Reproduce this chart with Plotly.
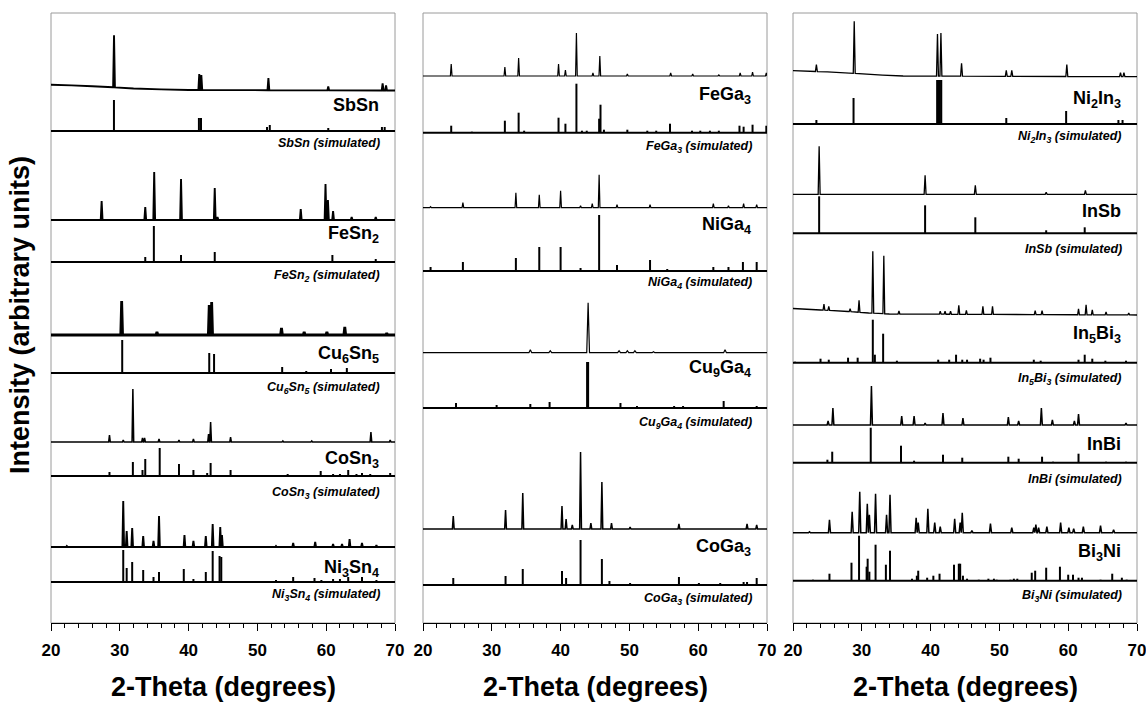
import numpy as np
import plotly.graph_objects as go

# ---------------- data: peak positions (2-theta) and intensities (arb. units) ----------------
# Panel 1 : Sn compounds
SBSN_EXP_X = [29.16, 41.55, 41.85, 51.6, 60.3, 68.2, 68.7]
SBSN_EXP_I = [52, 16, 15, 12, 4, 7, 5]
SBSN_BG_X = [20, 23, 26, 29, 32, 36, 40, 70]
SBSN_BG_I = [5.3, 4.6, 3.7, 2.7, 1.5, 0.6, 0, -0.5]
SBSN_SIM_X = [29.15, 41.5, 41.8, 51.4, 51.8, 60.3, 68.1, 68.5]
SBSN_SIM_I = [31, 13, 13, 4, 6, 3, 4, 4]

FESN2_EXP_X = [27.36, 33.7, 35.0, 38.9, 43.8, 44.2, 56.3, 59.9, 60.25, 61.0, 63.7, 67.2]
FESN2_EXP_I = [19, 13, 48, 41, 32, 3, 11, 36, 20, 9, 3, 3]
FESN2_SIM_X = [27.4, 33.7, 34.95, 38.9, 43.8, 56.3, 60.9, 67.2]
FESN2_SIM_I = [1, 5, 36, 7, 10, 1, 7, 3]

CU6SN5_EXP_X = [30.27, 35.4, 43.0, 43.35, 53.5, 56.8, 60.1, 62.7, 68.8]
CU6SN5_EXP_I = [34, 3, 30, 33, 7, 3, 3, 8, 2]
CU6SN5_SIM_X = [30.35, 35.6, 43.0, 43.7, 53.6, 57.1, 60.7, 63.0]
CU6SN5_SIM_I = [33, 1, 20, 19, 6, 2, 4, 5]

COSN3_EXP_X = [28.5, 30.5, 31.9, 33.3, 33.6, 35.7, 38.6, 40.7, 42.9, 43.2, 46.1, 53.7, 57.9, 66.5, 69.3]
COSN3_EXP_I = [7, 2, 53, 4, 4, 3, 2, 3, 8, 20, 5, 1, 1, 10, 2]
COSN3_SIM_X = [28.5, 30.5, 31.9, 33.3, 33.7, 35.8, 38.6, 40.7, 42.7, 43.2, 46.1, 52.4, 54.4,
               59.2, 61.0, 62.0, 63.2, 64.4, 65.2, 66.4, 69.3]
COSN3_SIM_I = [4, 1, 14, 6, 17, 28, 12, 6, 3, 13, 6, 1, 2, 5, 2, 2, 6, 2, 3, 2, 3]

NI3SN4_EXP_X = [22.3, 30.5, 31.0, 31.8, 33.4, 34.9, 35.7, 39.4, 40.7, 42.5, 43.5, 44.6, 44.85,
                52.7, 55.2, 58.4, 61.0, 62.3, 63.4, 65.2, 67.3]
NI3SN4_EXP_I = [1, 46, 16, 19, 11, 6, 31, 12, 6, 11, 23, 20, 12, 1, 4, 5, 3, 3, 8, 4, 2]
NI3SN4_SIM_X = [30.5, 31.0, 31.8, 33.4, 34.9, 35.7, 39.3, 40.7, 42.5, 43.5, 44.5, 44.75, 51.0,
                52.7, 55.2, 58.3, 59.3, 61.0, 62.0, 63.2, 65.2, 67.3]
NI3SN4_SIM_I = [32, 14, 20, 12, 5, 10, 13, 3, 10, 31, 26, 25, 1, 2, 5, 4, 2, 3, 3, 5, 5, 2]

# Panel 2 : Ga compounds
FEGA3_EXP_X = [24.1, 31.9, 33.9, 39.7, 40.7, 42.3, 44.7, 45.7, 49.7, 56.0, 59.2, 63.0, 66.1, 67.9, 69.9]
FEGA3_EXP_I = [12, 9, 18, 12, 6, 43, 3, 20, 2, 3, 2, 1, 3, 4, 3]
FEGA3_SIM_X = [24.1, 27.1, 31.9, 33.9, 34.7, 39.7, 40.7, 42.3, 43.1, 43.8, 45.6, 45.8, 46.3, 49.7,
               52.6, 53.9, 55.9, 59.1, 60.3, 61.7, 63.0, 66.0, 66.6, 67.9, 69.9]
FEGA3_SIM_I = [7, 1, 12, 20, 2, 15, 9, 49, 2, 2, 14, 28, 3, 3, 2, 2, 9, 2, 2, 2, 2, 7, 6, 8, 7]

NIGA4_EXP_X = [21.1, 25.8, 33.5, 36.9, 40.0, 42.9, 44.6, 45.6, 48.2, 53.0, 62.2, 64.4, 66.6, 68.5]
NIGA4_EXP_I = [1, 5, 15, 13, 17, 2, 4, 33, 3, 3, 4, 2, 4, 3]
NIGA4_SIM_X = [21.1, 25.8, 29.9, 33.5, 36.9, 40.0, 42.9, 45.6, 48.2, 50.9, 53.0, 55.5, 60.1,
               62.2, 64.4, 66.5, 68.5]
NIGA4_SIM_I = [4, 9, 1, 13, 24, 24, 3, 56, 6, 1, 11, 2, 1, 4, 4, 9, 9]

CU9GA4_EXP_X = [35.6, 38.5, 44.0, 48.5, 49.7, 50.8, 53.5, 63.9]
CU9GA4_EXP_I = [3, 2, 50, 2, 2, 2, 1, 3]
CU9GA4_SIM_X = [22.7, 24.8, 30.7, 35.6, 38.4, 43.85, 44.0, 48.7, 51.1, 56.5, 57.8, 63.7, 68.5]
CU9GA4_SIM_I = [1, 5, 3, 4, 6, 46, 46, 5, 2, 2, 2, 7, 2]

COGA3_EXP_X = [24.4, 32.0, 34.5, 40.2, 40.8, 41.7, 42.9, 44.4, 46.0, 47.4, 50.1, 57.2, 67.1, 68.5]
COGA3_EXP_I = [13, 19, 36, 23, 10, 4, 77, 6, 47, 6, 2, 5, 5, 4]
COGA3_SIM_X = [24.4, 32.0, 34.5, 40.2, 40.8, 42.9, 46.0, 47.1, 50.1, 57.2, 60.1, 63.2, 66.6, 67.1, 68.5]
COGA3_SIM_I = [7, 9, 16, 14, 7, 45, 26, 4, 2, 8, 2, 2, 3, 3, 7]

# Panel 3 : In / Bi compounds
NI2IN3_EXP_X = [23.4, 28.9, 41.0, 41.5, 44.5, 51.0, 51.8, 59.8, 67.6, 68.1]
NI2IN3_EXP_I = [7, 52, 42, 43, 13, 6, 6, 12, 4, 4]
NI2IN3_BG_X = [20, 25, 29, 33, 36, 70]
NI2IN3_BG_I = [6, 4.8, 3.3, 1.6, 0.7, 0]
NI2IN3_SIM_X = [23.4, 28.8, 33.7, 40.95, 41.15, 41.35, 41.55, 44.5, 51.0, 59.7, 67.3, 67.9]
NI2IN3_SIM_I = [4, 26, 1, 44, 44, 44, 44, 1, 6, 13, 4, 4]

INSB_EXP_X = [23.8, 39.2, 46.5, 56.8, 62.5]
INSB_EXP_I = [48, 19, 9, 2, 4]
INSB_SIM_X = [23.8, 39.2, 46.5, 56.8, 62.4]
INSB_SIM_I = [37, 28, 16, 3, 6]

IN5BI3_EXP_X = [24.5, 25.2, 28.3, 29.6, 31.6, 33.2, 35.4, 41.4, 42.1, 42.9, 44.1, 45.2, 47.6, 49.0,
                55.2, 56.2, 61.5, 62.6, 63.5, 65.5, 68.8]
IN5BI3_EXP_I = [6, 4, 3, 12, 62, 58, 3, 3, 3, 3, 9, 4, 8, 8, 4, 4, 6, 10, 5, 3, 2]
IN5BI3_BG_X = [20, 24, 28, 31, 34, 70]
IN5BI3_BG_I = [6.5, 5, 3.5, 2, 1, 0]
IN5BI3_SIM_X = [20.3, 24.0, 25.2, 28.0, 29.4, 31.6, 31.9, 33.1, 35.1, 41.1, 42.7, 43.7, 44.6, 45.3,
                47.2, 47.7, 48.7, 55.0, 56.0, 61.5, 62.4, 63.5, 65.4, 68.4]
IN5BI3_SIM_I = [1, 4, 3, 5, 5, 43, 8, 29, 2, 3, 3, 8, 3, 3, 4, 3, 5, 3, 2, 3, 8, 4, 2, 2]

INBI_EXP_X = [25.1, 25.8, 31.4, 35.8, 37.6, 39.2, 41.8, 44.7, 51.3, 52.8, 56.1, 57.7, 60.9, 61.5, 68.4]
INBI_EXP_I = [4, 17, 39, 9, 9, 2, 12, 7, 8, 4, 17, 5, 4, 11, 2]
INBI_SIM_X = [25.0, 25.7, 31.3, 35.7, 37.6, 41.8, 44.6, 51.3, 52.8, 56.2, 57.8, 61.5, 65.5, 68.4]
INBI_SIM_I = [3, 11, 35, 17, 2, 8, 5, 6, 4, 6, 1, 9, 1, 1]

BI3NI_EXP_X = [22.4, 25.3, 28.6, 29.7, 30.8, 31.1, 32.0, 33.6, 34.1, 37.9, 38.2, 39.6, 40.6, 41.4,
               43.5, 44.3, 44.6, 46.0, 48.7, 51.8, 55.0, 55.3, 55.7, 56.9, 58.9, 60.1, 60.8, 62.2,
               64.7, 66.6]
BI3NI_EXP_I = [1, 13, 21, 41, 29, 18, 39, 18, 38, 15, 10, 24, 10, 6, 14, 10, 20, 2, 9, 5, 5, 8, 5,
               6, 10, 5, 4, 6, 7, 3]
BI3NI_SIM_X = [22.9, 25.3, 28.5, 29.6, 30.7, 30.85, 31.1, 32.0, 33.5, 34.1, 37.3, 38.0, 38.2, 39.5,
               40.4, 41.3, 43.4, 44.1, 44.3, 44.7, 45.3, 47.0, 48.4, 49.2, 49.6, 51.6, 52.1, 52.6,
               54.7, 55.2, 56.8, 58.8, 60.0, 60.7, 61.5, 62.0, 64.7, 66.4, 67.8, 68.5]
BI3NI_SIM_I = [1, 7, 18, 45, 14, 22, 9, 36, 16, 30, 2, 5, 10, 3, 5, 7, 16, 17, 17, 5, 2, 1, 2, 2, 1,
               1, 2, 2, 8, 10, 13, 14, 6, 6, 3, 3, 1, 7, 3, 1]

# stacking offsets of each pattern (arb. units), top to bottom
P1_EXP_OFFSET = [533, 403, 288, 181, 76]
P1_SIM_OFFSET = [492, 361, 250, 147, 41]
P2_EXP_OFFSET = [547, 415.3, 270.3, 94]
P2_SIM_OFFSET = [490.3, 352, 215, 38]
P3_EXP_OFFSET = [546.3, 428.7, 308, 198, 90.3]
P3_SIM_OFFSET = [499, 389.7, 260.3, 160.3, 42.3]

# labels
P1_NAMES = ["SbSn", "FeSn<sub>2</sub>", "Cu<sub>6</sub>Sn<sub>5</sub>", "CoSn<sub>3</sub>", "Ni<sub>3</sub>Sn<sub>4</sub>"]
P2_NAMES = ["FeGa<sub>3</sub>", "NiGa<sub>4</sub>", "Cu<sub>9</sub>Ga<sub>4</sub>", "CoGa<sub>3</sub>"]
P3_NAMES = ["Ni<sub>2</sub>In<sub>3</sub>", "InSb", "In<sub>5</sub>Bi<sub>3</sub>", "InBi", "Bi<sub>3</sub>Ni"]
P1_NAME_Y = [518, 388, 269, 164, 55]
P1_SIM_Y = [480, 347, 235, 130, 28]
P2_NAME_Y = [527, 397, 254.5, 76]
P2_SIM_Y = [475.5, 340, 200, 24.5]
P3_NAME_Y = [523, 411.5, 289, 179.5, 70.5]
P3_SIM_Y = [485.5, 374, 244.5, 144.5, 27]

X_TICKS = [20, 30, 40, 50, 60, 70]
X_TITLE = "2-Theta (degrees)"
Y_TITLE = "Intensity (arbitrary units)"

FONT = "Liberation Sans, Arial, sans-serif"
W, H = 1146, 702


def spike_curve(pos, inten, base, w, bg_x=None, bg_i=None):
    if bg_x is None:
        bg_x, bg_i = [20, 70], [0, 0]
    order = np.argsort(pos)
    p = np.asarray(pos, float)[order]
    h = np.asarray(inten, float)[order]
    pts, wins = [], []
    for i in range(len(p)):
        lw = w if i == 0 else min(w, (p[i] - p[i - 1]) / 2)
        rw = w if i == len(p) - 1 else min(w, (p[i + 1] - p[i]) / 2)
        a, b = p[i] - lw, p[i] + rw
        pts += [(a, float(np.interp(a, bg_x, bg_i))),
                (p[i], float(np.interp(p[i], bg_x, bg_i)) + h[i]),
                (b, float(np.interp(b, bg_x, bg_i)))]
        wins.append((a, b))
    for kx in list(bg_x) + [20, 70]:
        if not any(a <= kx <= b for a, b in wins):
            pts.append((float(kx), float(np.interp(kx, bg_x, bg_i))))
    pts.sort(key=lambda t: t[0])
    xs = [t[0] for t in pts]
    ys = [t[1] + base for t in pts]
    return xs, ys


def stick_lines(pos, inten, base):
    xs, ys = [], []
    for x, h in zip(pos, inten):
        xs += [x, x, None]
        ys += [base, base + h, None]
    return xs, ys


fig = go.Figure()
shapes, annotations = [], []

panels = [
    dict(ax="", exp=[(SBSN_EXP_X, SBSN_EXP_I, SBSN_BG_X, SBSN_BG_I, 1.9, 0.13),
                     (FESN2_EXP_X, FESN2_EXP_I, None, None, 1.9, 0.13),
                     (CU6SN5_EXP_X, CU6SN5_EXP_I, None, None, 2.8, 0.13),
                     (COSN3_EXP_X, COSN3_EXP_I, None, None, 1.5, 0.12),
                     (NI3SN4_EXP_X, NI3SN4_EXP_I, None, None, 1.9, 0.12)],
         sim=[(SBSN_SIM_X, SBSN_SIM_I), (FESN2_SIM_X, FESN2_SIM_I), (CU6SN5_SIM_X, CU6SN5_SIM_I),
              (COSN3_SIM_X, COSN3_SIM_I), (NI3SN4_SIM_X, NI3SN4_SIM_I)],
         eoff=P1_EXP_OFFSET, soff=P1_SIM_OFFSET, names=P1_NAMES, ny=P1_NAME_Y, sy=P1_SIM_Y,
         dom=[51, 395]),
    dict(ax="2", exp=[(FEGA3_EXP_X, FEGA3_EXP_I, None, None, 1.2, 0.12),
                      (NIGA4_EXP_X, NIGA4_EXP_I, None, None, 1.2, 0.12),
                      (CU9GA4_EXP_X, CU9GA4_EXP_I, None, None, 1.2, 0.2),
                      (COGA3_EXP_X, COGA3_EXP_I, None, None, 1.5, 0.13)],
         sim=[(FEGA3_SIM_X, FEGA3_SIM_I), (NIGA4_SIM_X, NIGA4_SIM_I), (CU9GA4_SIM_X, CU9GA4_SIM_I),
              (COGA3_SIM_X, COGA3_SIM_I)],
         eoff=P2_EXP_OFFSET, soff=P2_SIM_OFFSET, names=P2_NAMES, ny=P2_NAME_Y, sy=P2_SIM_Y,
         dom=[423, 767]),
    dict(ax="3", exp=[(NI2IN3_EXP_X, NI2IN3_EXP_I, NI2IN3_BG_X, NI2IN3_BG_I, 1.3, 0.14),
                      (INSB_EXP_X, INSB_EXP_I, None, None, 1.3, 0.14),
                      (IN5BI3_EXP_X, IN5BI3_EXP_I, IN5BI3_BG_X, IN5BI3_BG_I, 1.3, 0.13),
                      (INBI_EXP_X, INBI_EXP_I, None, None, 1.5, 0.14),
                      (BI3NI_EXP_X, BI3NI_EXP_I, None, None, 1.5, 0.15)],
         sim=[(NI2IN3_SIM_X, NI2IN3_SIM_I), (INSB_SIM_X, INSB_SIM_I), (IN5BI3_SIM_X, IN5BI3_SIM_I),
              (INBI_SIM_X, INBI_SIM_I), (BI3NI_SIM_X, BI3NI_SIM_I)],
         eoff=P3_EXP_OFFSET, soff=P3_SIM_OFFSET, names=P3_NAMES, ny=P3_NAME_Y, sy=P3_SIM_Y,
         dom=[793, 1137]),
]

ydom = [1 - 623 / H, 1 - 13 / H]

for pn in panels:
    ax = pn["ax"]
    xref, yref = "x" + ax, "y" + ax
    for (px, pi, bx, bi, lw, hw), off in zip(pn["exp"], pn["eoff"]):
        xs, ys = spike_curve(px, pi, off, hw, bx, bi)
        fig.add_trace(go.Scatter(x=xs, y=ys, mode="lines", xaxis=xref, yaxis=yref,
                                 line=dict(color="black", width=lw, simplify=False),
                                 showlegend=False, hoverinfo="skip"))
    for (px, pi), off in zip(pn["sim"], pn["soff"]):
        xs, ys = stick_lines(px, pi, off)
        fig.add_trace(go.Scatter(x=xs, y=ys, mode="lines", xaxis=xref, yaxis=yref,
                                 line=dict(color="black", width=2), connectgaps=False,
                                 showlegend=False, hoverinfo="skip"))
        shapes.append(dict(type="line", xref=xref + " domain", yref=yref, x0=0, x1=1, y0=off, y1=off,
                           line=dict(color="black", width=2)))
    shapes.append(dict(type="rect", xref=xref + " domain", yref=yref + " domain", x0=0, x1=1, y0=0, y1=1,
                       line=dict(color="#9a9a9a", width=1), layer="below"))
    for name, y in zip(pn["names"], pn["ny"]):
        annotations.append(dict(text="<b>" + name + "</b>", x=68, y=y, xref=xref, yref=yref,
                                xanchor="right", yanchor="middle", showarrow=False,
                                font=dict(family=FONT, size=18, color="black")))
    for name, y in zip(pn["names"], pn["sy"]):
        annotations.append(dict(text="<b><i>" + name + " (simulated)</i></b>", x=68.1, y=y, xref=xref,
                                yref=yref, xanchor="right", yanchor="middle", showarrow=False,
                                font=dict(family=FONT, size=12.5, color="black")))
    d0, d1 = pn["dom"]
    annotations.append(dict(text="<b>" + X_TITLE + "</b>", x=(d0 + d1) / 2 / W, y=1 - 687 / H,
                            xref="paper", yref="paper", xanchor="center", yanchor="middle",
                            showarrow=False, font=dict(family=FONT, size=27, color="black")))
    xa = dict(domain=[d0 / W, d1 / W], range=[20, 70], anchor=yref, showgrid=False, zeroline=False,
              showline=True, linecolor="black", linewidth=1, automargin=False,
              ticks="outside", ticklen=7, tickwidth=1, tickcolor="black",
              tickvals=X_TICKS, ticktext=["<b>%d</b>" % t for t in X_TICKS], ticklabelstandoff=5,
              ticklabeloverflow="allow",
              minor=dict(ticks="outside", ticklen=4, tickwidth=1, tickcolor="black", dtick=2, tick0=20),
              tickfont=dict(family=FONT, size=17, color="black"), fixedrange=True)
    ya = dict(domain=ydom, range=[0, 610], anchor=xref, visible=False, fixedrange=True)
    fig.update_layout(**{"xaxis" + ax: xa, "yaxis" + ax: ya})

annotations.append(dict(text="<b>" + Y_TITLE + "</b>", x=20 / W, y=1 - 315 / H, xref="paper",
                        yref="paper", xanchor="center", yanchor="middle", textangle=-90,
                        showarrow=False, font=dict(family=FONT, size=27, color="black")))

fig.update_layout(width=W, height=H, autosize=False, margin=dict(l=0, r=0, t=0, b=0),
                  paper_bgcolor="white", plot_bgcolor="white", shapes=shapes,
                  annotations=annotations, showlegend=False)

fig.write_html("out.html", config={"displayModeBar": False},
               post_script="document.body.style.margin='0px';document.body.style.overflow='hidden';")
